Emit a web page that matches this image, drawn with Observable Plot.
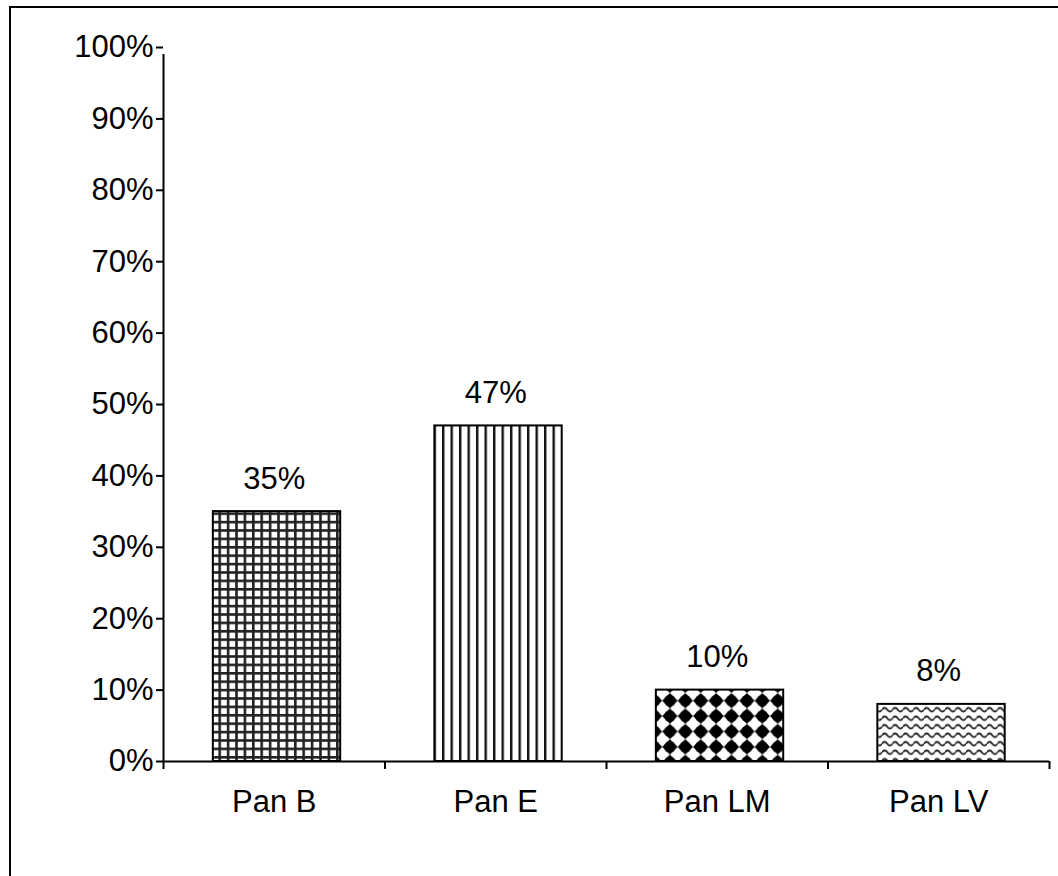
<!DOCTYPE html>
<html><head><meta charset="utf-8">
<script src="https://cdn.jsdelivr.net/npm/d3@7"></script>
<script src="https://cdn.jsdelivr.net/npm/@observablehq/plot@0.6"></script>
<style>
body{margin:0;background:#fff;font-family:"Liberation Sans",Arial,sans-serif;}
#wrap{position:relative;width:1058px;height:876px;overflow:hidden;background:#fff;}
#border{position:absolute;left:9px;top:6px;width:1200px;height:1000px;border-left:2px solid #000;border-top:2px solid #000;}
#wrap svg{position:absolute;left:0;top:0;}
</style></head><body><div id="wrap"><div id="border"></div></div>
<script>
const categories = ["Pan B", "Pan E", "Pan LM", "Pan LV"];
const values = [0.35, 0.47, 0.10, 0.08];
const yTicks = [0, 0.1, 0.2, 0.3, 0.4, 0.5, 0.6, 0.7, 0.8, 0.9, 1.0];
const xTicks = [0, 1, 2, 3, 4];

const patternOf = {"Pan B": "pGrid", "Pan E": "pVert", "Pan LM": "pDiam", "Pan LV": "pWave"};
const data = categories.map((c, i) => ({category: c, i, value: values[i]}));
const pct = d3.format(".0%");
const FS = 31;

const chart = Plot.plot({
  width: 1058,
  height: 876,
  marginLeft: 163,
  marginRight: 9,
  marginTop: 47,
  marginBottom: 115,
  style: {fontFamily: "Liberation Sans, Arial, sans-serif", color: "black", background: "transparent", overflow: "visible"},
  x: {domain: [0, 4], label: null},
  y: {domain: [0, 1], label: null},
  color: {type: "identity"},
  marks: [
    Plot.rect(data, {x1: d => d.i + 0.225, x2: d => d.i + 0.80, y1: 0, y2: "value",
      fill: d => `url(#${patternOf[d.category]})`, stroke: "black", strokeWidth: 2}),
    Plot.ruleY([0], {x1: 0, x2: 4, stroke: "black", strokeWidth: 2}),
    Plot.ruleX([0], {y1: 0, y2: 1, stroke: "black", strokeWidth: 2, insetBottom: -7}),
    Plot.axisY({ticks: yTicks, tickFormat: pct, tickSize: 7, tickPadding: 3, fontSize: FS, strokeWidth: 2, label: null}),
    Plot.axisX({ticks: xTicks, tickSize: 8, tickFormat: () => "", strokeWidth: 2, label: null}),
    Plot.text(data, {x: d => d.i + 0.5, y: "value", text: d => pct(d.value), dy: -33, fontSize: FS, lineAnchor: "middle", fill: "black"}),
    Plot.text(data, {x: d => d.i + 0.5, y: 0, text: "category", dy: 41, fontSize: FS, lineAnchor: "middle", fill: "black"})
  ]
});

const svg = d3.select(chart);
const defs = svg.insert("defs", ":first-child");
// grid
const gs = 8.4;
const g = defs.append("pattern").attr("id", "pGrid").attr("patternUnits", "userSpaceOnUse").attr("width", gs).attr("height", gs);
g.append("rect").attr("width", gs).attr("height", gs).attr("fill", "white");
g.append("rect").attr("x", 0).attr("y", 0).attr("width", 2.6).attr("height", gs).attr("fill", "#222");
g.append("rect").attr("x", 0).attr("y", 0).attr("width", gs).attr("height", 2.6).attr("fill", "#222");
// vertical
const vs = 8.5;
const v = defs.append("pattern").attr("id", "pVert").attr("patternUnits", "userSpaceOnUse").attr("width", vs).attr("height", vs);
v.append("rect").attr("width", vs).attr("height", vs).attr("fill", "white");
v.append("rect").attr("x", 0).attr("y", 0).attr("width", 2.4).attr("height", vs).attr("fill", "#111");
// diamonds
const s = 15.4, h = s / 2;
const dm = defs.append("pattern").attr("id", "pDiam").attr("patternUnits", "userSpaceOnUse").attr("width", s).attr("height", s);
dm.append("rect").attr("width", s).attr("height", s).attr("fill", "white");
dm.append("circle").attr("cx", h).attr("cy", h).attr("r", 5.8).attr("fill", "black");
dm.append("path").attr("d", `M${h},${h-7.7} L${h+7.7},${h} L${h},${h+7.7} L${h-7.7},${h} Z`).attr("fill", "black");
// waves
const ww = 10.5, wh = 8.5;
const wv = defs.append("pattern").attr("id", "pWave").attr("patternUnits", "userSpaceOnUse").attr("width", ww).attr("height", wh);
wv.append("rect").attr("width", ww).attr("height", wh).attr("fill", "white");
wv.append("path").attr("d", `M0,4.25 Q2.625,0.6 5.25,4.25 T10.5,4.25`).attr("fill", "none").attr("stroke", "#222").attr("stroke-width", 1.9);

document.getElementById("wrap").appendChild(chart);
</script>
</body></html>
